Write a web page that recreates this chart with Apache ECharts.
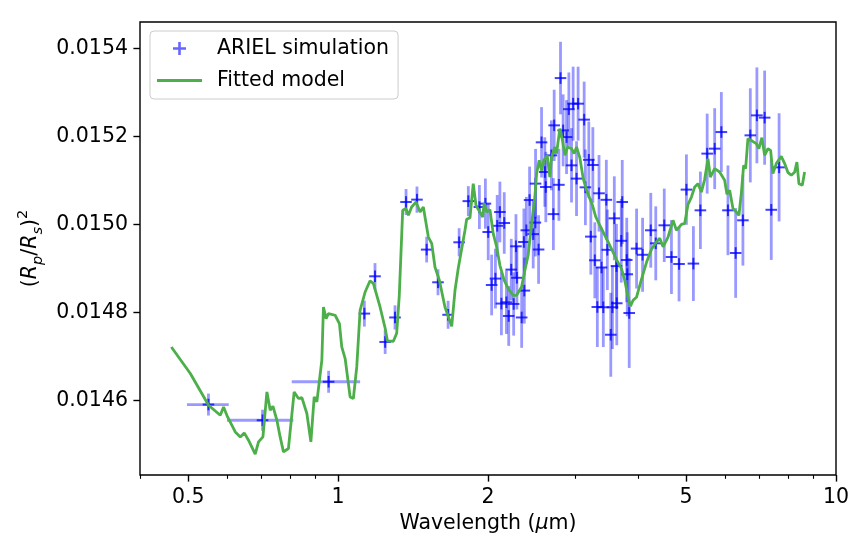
<!DOCTYPE html>
<html>
<head>
<meta charset="utf-8">
<script src="https://cdn.jsdelivr.net/npm/echarts@6/dist/echarts.min.js"></script>
<style>
  html, body { margin: 0; padding: 0; background: #fff; }
  #chart { width: 866px; height: 557px; }
</style>
</head>
<body>
<div id="chart"></div>
<script>
// broad-band photometric channels (with wavelength bins)
const photoWave = [0.549, 0.705, 0.957];
const photoLow = [0.497, 0.598, 0.807];
const photoHigh = [0.603, 0.813, 1.107];
const photoDepth = [0.0145902, 0.0145545, 0.014642];
const photoErr = [0.000025, 0.0000239, 0.000025];

// spectroscopic channels
const specWave = [
  1.129, 1.186, 1.243, 1.301, 1.369, 1.440, 1.506, 1.587, 1.663, 1.750,
  1.826, 1.922, 1.976, 2.002, 2.034, 2.070, 2.087, 2.113, 2.128, 2.156,
  2.178, 2.201, 2.227, 2.252, 2.276, 2.286, 2.337, 2.361, 2.366, 2.388,
  2.424, 2.465, 2.490, 2.492, 2.527, 2.562, 2.601, 2.613, 2.681, 2.706,
  2.716, 2.776, 2.797, 2.831, 2.876, 2.907, 2.943, 2.965, 3.012, 3.034,
  3.120, 3.138, 3.188, 3.218, 3.248, 3.278, 3.316, 3.342, 3.381, 3.409,
  3.457, 3.473, 3.529, 3.556, 3.587, 3.623, 3.628, 3.704, 3.721, 3.799,
  3.808, 3.843, 3.976, 4.088, 4.246, 4.345, 4.519, 4.672, 4.839, 5.007,
  5.171, 5.341, 5.511, 5.706, 5.885, 6.067, 6.287, 6.502, 6.728, 6.936,
  7.189, 7.413, 7.686
];
const specDepth = [
  0.014797, 0.0148818, 0.0147325, 0.0147882, 0.0150507, 0.0150561, 0.0149425, 0.0148682, 0.0147943, 0.0149591,
  0.0150527, 0.0150393, 0.015047, 0.0149825, 0.014862, 0.0148766, 0.0149966, 0.015028, 0.0148198, 0.015003,
  0.0148227, 0.0147916, 0.014897, 0.0148189, 0.01495, 0.0148784, 0.0147882, 0.0149598, 0.0148493, 0.0149864,
  0.0150552, 0.0149777, 0.0150039, 0.0150925, 0.0149427, 0.0151864, 0.0151189, 0.0150848, 0.0151568, 0.0150232,
  0.015225, 0.0150898, 0.0153325, 0.0152136, 0.0151984, 0.0152618, 0.0151341, 0.0152743, 0.0151039, 0.0152743,
  0.015238, 0.0150841, 0.0151466, 0.014972, 0.0151348, 0.0149182, 0.014812, 0.0150705, 0.0149018, 0.0148114,
  0.0150557, 0.014942, 0.0147489, 0.0148114, 0.0150136, 0.014905, 0.0148205, 0.0149625, 0.0150507, 0.0149189,
  0.0148864, 0.0147984, 0.0149448, 0.0149307, 0.0149864, 0.0149568, 0.0149977, 0.0149257, 0.0149098, 0.0150789,
  0.0149107, 0.0150318, 0.0151607, 0.015172, 0.0152098, 0.0150318, 0.0149348, 0.0150091, 0.0152023, 0.0152477,
  0.0152425, 0.015033, 0.0151295
];
const specErr = [
  0.0000295, 0.0000300, 0.0000273, 0.0000275, 0.0000295, 0.0000298, 0.0000292, 0.0000295, 0.0000318, 0.0000320,
  0.0000341, 0.0000500, 0.0000570, 0.0000640, 0.0000690, 0.0000680, 0.0000700, 0.0000690, 0.0000720, 0.0000700,
  0.0000720, 0.0000680, 0.0000700, 0.0000720, 0.0000730, 0.0000720, 0.0000690, 0.0000760, 0.0000750, 0.0000760,
  0.0000760, 0.0000780, 0.0000770, 0.0000790, 0.0000780, 0.0000800, 0.0000790, 0.0000800, 0.0000795, 0.0000818,
  0.0000810, 0.0000818, 0.0000825, 0.0000818, 0.0000841, 0.0000835, 0.0000845, 0.0000841, 0.0000850, 0.0000841,
  0.0000864, 0.0000860, 0.0000870, 0.0000864, 0.0000860, 0.0000864, 0.0000909, 0.0000870, 0.0000909, 0.0000905,
  0.0000909, 0.0000915, 0.0000955, 0.0000950, 0.0000955, 0.0000960, 0.0000955, 0.0000950, 0.0000955, 0.0000960,
  0.0000955, 0.0001250, 0.0000909, 0.0000841, 0.0000850, 0.0000841, 0.0000835, 0.0000841, 0.0000850, 0.0000800,
  0.0000850, 0.0000880, 0.0000909, 0.0000920, 0.0000909, 0.0001020, 0.0001020, 0.0001030, 0.0001070, 0.0001090,
  0.0001070, 0.0001140, 0.0001230
];

// fitted forward model
const modelWave = [
  0.4624, 0.5048, 0.5493, 0.5798, 0.5887, 0.5997, 0.6215, 0.6360, 0.6478, 0.6607,
  0.6815, 0.6920, 0.7063, 0.7194, 0.7305, 0.7396, 0.7534, 0.7648, 0.7766, 0.7946,
  0.8160, 0.8325, 0.8457, 0.8654, 0.8816, 0.8952, 0.9064, 0.9275, 0.9344, 0.9461,
  0.9561, 0.9862, 1.006, 1.017, 1.033, 1.057, 1.073, 1.090, 1.107, 1.133,
  1.159, 1.177, 1.214, 1.243, 1.256, 1.291, 1.311, 1.327, 1.348, 1.369,
  1.384, 1.405, 1.434, 1.461, 1.483, 1.518, 1.542, 1.565, 1.597, 1.639,
  1.691, 1.717, 1.743, 1.798, 1.812, 1.840, 1.868, 1.892, 1.927, 1.951,
  1.965, 1.987, 2.018, 2.049, 2.082, 2.113, 2.156, 2.196, 2.247, 2.283,
  2.336, 2.372, 2.408, 2.447, 2.484, 2.504, 2.534, 2.562, 2.589, 2.630,
  2.662, 2.684, 2.725, 2.746, 2.788, 2.823, 2.854, 2.890, 2.943, 2.979,
  3.012, 3.059, 3.106, 3.155, 3.203, 3.243, 3.293, 3.355, 3.433, 3.485,
  3.513, 3.566, 3.623, 3.708, 3.764, 3.822, 3.865, 3.912, 3.974, 4.067,
  4.163, 4.260, 4.359, 4.426, 4.494, 4.599, 4.706, 4.781, 4.893, 4.968,
  5.044, 5.124, 5.202, 5.282, 5.366, 5.448, 5.532, 5.593, 5.706, 5.839,
  5.975, 6.039, 6.115, 6.209, 6.306, 6.383, 6.454, 6.524, 6.584, 6.654,
  6.790, 6.917, 7.000, 7.098, 7.189, 7.299, 7.391, 7.468, 7.586, 7.764,
  7.883, 8.004, 8.131, 8.257, 8.346, 8.424, 8.557, 8.649
];
const modelDepth = [
  0.0147211, 0.0146607, 0.0145886, 0.0145659, 0.0145848, 0.014562, 0.014528, 0.0145166, 0.0145257, 0.0145091,
  0.0144773, 0.0145052, 0.0145166, 0.0146189, 0.0145773, 0.0145864, 0.0145545, 0.0145166, 0.0144825, 0.0144902,
  0.0146189, 0.0146039, 0.0146061, 0.0145698, 0.0145052, 0.0146075, 0.0145961, 0.0146909, 0.014812, 0.0147857,
  0.014797, 0.0147932, 0.0147743, 0.0147211, 0.0146948, 0.0146075, 0.0146039, 0.0146757, 0.0148045, 0.0148461,
  0.0148716, 0.0148659, 0.014812, 0.0147636, 0.0147352, 0.0147341, 0.0147523, 0.0148386, 0.0150318, 0.0150357,
  0.0150205, 0.0150393, 0.0150507, 0.015028, 0.0150393, 0.0149711, 0.0149561, 0.014903, 0.0148727, 0.014812,
  0.0147682, 0.01485, 0.0149, 0.0149864, 0.0150114, 0.0150148, 0.0150925, 0.0150432, 0.0150273, 0.0150166,
  0.0150484, 0.015028, 0.0150334, 0.0149789, 0.0149484, 0.0149068, 0.0148727, 0.0148539, 0.0148386, 0.0148386,
  0.0148575, 0.0148955, 0.0149295, 0.0150016, 0.015062, 0.0151152, 0.0151455, 0.0151227, 0.0151455, 0.0151568,
  0.0151075, 0.015153, 0.0151757, 0.0151607, 0.0152175, 0.0151909, 0.0151568, 0.0151757, 0.015172, 0.0151607,
  0.0151757, 0.0151511, 0.0151045, 0.0150773, 0.0150584, 0.0150432, 0.0150166, 0.0149977, 0.014975, 0.0149598,
  0.0149636, 0.014937, 0.0149198, 0.0148993, 0.0148727, 0.0148348, 0.0148136, 0.0148273, 0.0148341, 0.014875,
  0.0149136, 0.0149432, 0.0149598, 0.0149682, 0.0149489, 0.0149711, 0.0150091, 0.0149864, 0.015, 0.0150023,
  0.0150455, 0.015062, 0.0150848, 0.0150925, 0.0150734, 0.0151023, 0.0151493, 0.0151075, 0.0151266, 0.0151189,
  0.0151, 0.0150682, 0.0150773, 0.0150357, 0.015028, 0.0150205, 0.0150705, 0.0151341, 0.0151266, 0.0151948,
  0.0151893, 0.0151834, 0.015172, 0.015197, 0.0151568, 0.015172, 0.0151682, 0.0151152, 0.015138, 0.0151545,
  0.0151386, 0.0151182, 0.0151114, 0.0151182, 0.0151416, 0.0150925, 0.0150886, 0.0151189
];

// axis ticks
const xMajorTicks = [0.5, 1, 2, 5, 10];
const xMinorTicks = [0.4, 0.6, 0.7, 0.8, 0.9, 3, 4, 6, 7, 8, 9];
const yTicks = [0.0146, 0.0148, 0.0150, 0.0152, 0.0154];

const FONT = "DejaVu Sans";
const FS = 20.5;
const errColor = "rgba(0,0,255,0.4)";
const markColor = "rgba(0,0,255,0.75)";
const green = "#4daf4a";

// [wave, depth, err, lowEdge, highEdge]
const points = [];
photoWave.forEach((w, i) => {
  points.push([w, photoDepth[i], photoErr[i], photoLow[i], photoHigh[i]]);
});
specWave.forEach((w, i) => {
  points.push([w, specDepth[i], specErr[i], w, w]);
});

function renderBars(params, api) {
  const x = api.value(0), y = api.value(1), e = api.value(2);
  const lo = api.value(3), hi = api.value(4);
  const top = api.coord([x, y + e]);
  const bot = api.coord([x, y - e]);
  const children = [{
    type: "line",
    shape: { x1: top[0], y1: top[1], x2: bot[0], y2: bot[1] },
    style: { stroke: errColor, lineWidth: 2.8 },
  }];
  if (hi > lo) {
    const l = api.coord([lo, y]);
    const r = api.coord([hi, y]);
    children.push({
      type: "line",
      shape: { x1: l[0], y1: l[1], x2: r[0], y2: r[1] },
      style: { stroke: errColor, lineWidth: 2.8 },
    });
  }
  return { type: "group", children };
}

function renderMarks(params, api) {
  const c = api.coord([api.value(0), api.value(1)]);
  const h = 5.8;
  return {
    type: "group",
    children: [
      { type: "line", shape: { x1: c[0] - h, y1: c[1], x2: c[0] + h, y2: c[1] },
        style: { stroke: markColor, lineWidth: 2 } },
      { type: "line", shape: { x1: c[0], y1: c[1] - h, x2: c[0], y2: c[1] + h },
        style: { stroke: markColor, lineWidth: 2 } },
    ],
  };
}

const chart = echarts.init(document.getElementById("chart"));
chart.setOption({
  animation: false,
  backgroundColor: "#fff",
  grid: {
    left: 140, right: 30, top: 22, bottom: 82,
    show: true, borderColor: "#000", borderWidth: 1.4, backgroundColor: "transparent",
  },
  legend: {
    orient: "vertical",
    left: 150,
    top: 31,
    itemWidth: 45,
    itemHeight: 13,
    itemGap: 11,
    padding: [7, 9, 8, 7],
    backgroundColor: "rgba(255,255,255,0.8)",
    borderColor: "#cccccc",
    borderWidth: 1,
    borderRadius: 4,
    textStyle: { fontFamily: FONT, fontSize: FS, color: "#000", padding: [0, 0, 0, 10] },
    data: [
      { name: "ARIEL simulation", icon: "path://M4,0H6V4H10V6H6V10H4V6H0V4H4Z",
        itemStyle: { color: "rgba(0,0,255,0.6)" } },
      { name: "Fitted model", icon: "path://M0,0H45V3H0Z", itemStyle: { color: green } },
    ],
  },
  xAxis: [
    {
      type: "log",
      logBase: 10,
      min: 0.4,
      max: 10,
      name: "Wavelength ({i|μ}m)",
      nameLocation: "middle",
      nameGap: 36,
      nameTextStyle: {
        fontFamily: FONT, fontSize: FS, color: "#000",
        rich: { i: { fontFamily: FONT, fontSize: FS, fontStyle: "italic", color: "#000" } },
      },
      axisLine: { show: false },
      splitLine: { show: false },
      axisTick: { show: true, customValues: xMajorTicks, length: 6.6, lineStyle: { color: "#000", width: 1.4 } },
      axisLabel: {
        customValues: xMajorTicks,
        margin: 12,
        fontFamily: FONT, fontSize: FS, color: "#000",
        formatter: (v) => String(+(+v).toPrecision(3)),
      },
      minorTick: { show: false },
    },
    {
      type: "log",
      logBase: 10,
      min: 0.4,
      max: 10,
      position: "bottom",
      axisLine: { show: false },
      splitLine: { show: false },
      axisLabel: { show: false },
      axisTick: { show: true, customValues: xMinorTicks, length: 3.8, lineStyle: { color: "#000", width: 1.1 } },
    },
  ],
  yAxis: {
    type: "value",
    min: 0.01443,
    max: 0.01546,
    name: "{a|(}{i|R}{s|p}{a|/}{i|R}{s|s}{a|)}{u|2}",
    nameLocation: "middle",
    nameGap: 93,
    nameTextStyle: {
      fontFamily: FONT, fontSize: FS, color: "#000",
      rich: {
        a: { fontFamily: FONT, fontSize: FS, color: "#000", lineHeight: 30 },
        i: { fontFamily: FONT, fontSize: FS, fontStyle: "italic", color: "#000", lineHeight: 30 },
        s: { fontFamily: FONT, fontSize: 14.5, fontStyle: "italic", color: "#000", lineHeight: 16, verticalAlign: "bottom" },
        u: { fontFamily: FONT, fontSize: 14.5, color: "#000", lineHeight: 16, verticalAlign: "top" },
      },
    },
    axisLine: { show: false },
    splitLine: { show: false },
    axisTick: { show: true, customValues: yTicks, length: 6.6, lineStyle: { color: "#000", width: 1.4 } },
    axisLabel: {
      customValues: yTicks,
      margin: 12,
      fontFamily: FONT, fontSize: FS, color: "#000",
      formatter: (v) => (+v).toFixed(4),
    },
  },
  series: [
    {
      name: "ARIEL simulation",
      type: "custom",
      renderItem: renderBars,
      data: points,
      encode: { x: 0, y: 1 },
      itemStyle: { color: "rgba(0,0,255,0.6)" },
      clip: true,
      z: 2,
    },
    {
      name: "ARIEL simulation",
      type: "custom",
      renderItem: renderMarks,
      data: points.map((p) => [p[0], p[1]]),
      encode: { x: 0, y: 1 },
      itemStyle: { color: "rgba(0,0,255,0.6)" },
      clip: true,
      z: 3,
    },
    {
      name: "Fitted model",
      type: "line",
      data: modelWave.map((w, i) => [w, modelDepth[i]]),
      showSymbol: false,
      symbol: "none",
      itemStyle: { color: green },
      lineStyle: { color: green, width: 2.8 },
      z: 4,
    },
  ],
});
</script>
</body>
</html>
